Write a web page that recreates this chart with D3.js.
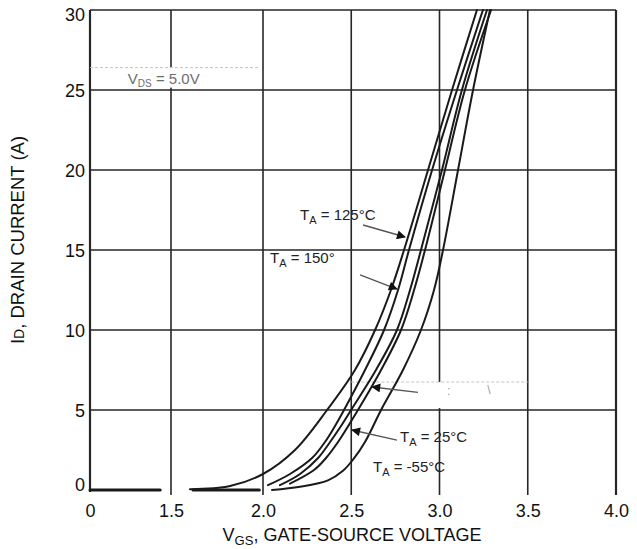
<!DOCTYPE html>
<html>
<head>
<meta charset="utf-8">
<script src="https://cdn.jsdelivr.net/npm/d3@7"></script>
<style>
  body { margin: 0; background: #fff; }
  svg { display: block; font-family: "Liberation Sans", Arial, sans-serif; }
</style>
</head>
<body>
<svg id="chart" width="637" height="549"></svg>
<script>
// gate-source voltage (V) ticks and drain current (A) ticks
const vgsTicks = [0, 1.5, 2.0, 2.5, 3.0, 3.5, 4.0];
const idTicks = [0, 5, 10, 15, 20, 25, 30];

// zero-current stretches drawn along the bottom
const zeroRun1 = [[0, 0], [1.3, 0]];
const zeroRun2 = [[1.62, 0], [1.98, 0]];

// [VGS, ID]
const t150 = [[1.603, 0.05], [1.821, 0.25], [2.0, 1.0], [2.181, 2.5], [2.363, 5.0], [2.521, 7.5],
  [2.635, 10.0], [2.725, 12.5], [2.799, 15.0], [2.935, 20.0], [3.071, 25.0], [3.212, 30.0]];
const t125 = [[2.028, 0.3], [2.153, 1.0], [2.278, 2.0], [2.351, 3.0], [2.408, 4.0], [2.459, 5.0],
  [2.578, 7.5], [2.686, 10.0], [2.765, 12.5], [2.827, 15.0], [2.958, 20.0], [3.099, 25.0], [3.246, 30.0]];
const tMid = [[2.096, 0.3], [2.21, 1.0], [2.312, 2.0], [2.38, 3.0], [2.442, 4.0], [2.499, 5.0],
  [2.64, 7.5], [2.759, 10.0], [2.833, 12.5], [2.895, 15.0], [3.014, 20.0], [3.127, 25.0], [3.269, 30.0]];
const t25 = [[2.153, 0.4], [2.289, 1.25], [2.357, 2.0], [2.425, 3.0], [2.538, 5.0], [2.669, 7.5],
  [2.782, 10.0], [2.856, 12.5], [2.918, 15.0], [3.031, 20.0], [3.144, 25.0], [3.292, 30.0]];
const tMinus55 = [[2.051, 0.0], [2.21, 0.2], [2.368, 0.6], [2.453, 1.2], [2.51, 1.9], [2.578, 3.0],
  [2.669, 5.0], [2.793, 7.5], [2.895, 10.0], [2.969, 12.5], [3.02, 15.0], [3.105, 20.0],
  [3.19, 25.0], [3.286, 30.0]];

const zeroRuns = [zeroRun1, zeroRun2];
const curves = [t150, t125, tMid, t25, tMinus55];

const svg = d3.select('#chart');

// the 0..1.5 span is squeezed on the original axis
const x = d3.scaleLinear().domain([0, 1.5, 2, 4]).range([90, 171, 263, 616]);
const y = d3.scaleLinear().domain([0, 30]).range([490, 10]);

const ink = '#262626';

// grid
const grid = svg.append('g').attr('stroke', ink).attr('stroke-width', 1.6);
grid.selectAll('line.h')
  .data(idTicks.filter(d => d > 0))
  .join('line')
  .attr('x1', x(0)).attr('x2', x(4))
  .attr('y1', d => y(d)).attr('y2', d => y(d));
grid.selectAll('line.v')
  .data(vgsTicks)
  .join('line')
  .attr('x1', d => x(d)).attr('x2', d => x(d))
  .attr('y1', y(30)).attr('y2', d => d === 0 ? y(0) + 2 : y(0) + 5)
  .attr('stroke-width', d => (d === 0 || d === 4) ? 2.2 : 1.6);

// washed-out label boxes from the scan
const boxes = svg.append('g');
boxes.append('rect')
  .attr('x', x(0) + 1.5).attr('y', y(26.4))
  .attr('width', x(1.98) - x(0) - 1.5).attr('height', y(25.15) - y(26.4))
  .attr('fill', '#fff');
boxes.append('line')
  .attr('x1', x(0)).attr('x2', x(1.98)).attr('y1', y(26.4)).attr('y2', y(26.4))
  .attr('stroke', '#c4c4c4').attr('stroke-dasharray', '3,2');
boxes.append('rect')
  .attr('x', x(2.5) + 1.5).attr('y', y(6.75))
  .attr('width', x(3.5) - x(2.5) - 3).attr('height', y(5.12) - y(6.75))
  .attr('fill', '#fff');
boxes.append('line')
  .attr('x1', x(2.5)).attr('x2', x(3.5)).attr('y1', y(6.75)).attr('y2', y(6.75))
  .attr('stroke', '#c4c4c4').attr('stroke-dasharray', '3,2');

// transfer curves
const flat = d3.line().x(d => x(d[0])).y(d => y(d[1]));
const smooth = d3.line()
  .x(d => x(d[0]))
  .y(d => y(d[1]))
  .curve(d3.curveCatmullRom.alpha(0.5));

const marks = svg.append('g')
  .attr('fill', 'none')
  .attr('stroke', '#1a1a1a')
  .attr('stroke-linecap', 'round');
marks.selectAll('path.zero')
  .data(zeroRuns)
  .join('path')
  .attr('class', 'zero')
  .attr('d', flat)
  .attr('stroke-width', 3);
marks.selectAll('path.curve')
  .data(curves)
  .join('path')
  .attr('class', 'curve')
  .attr('d', smooth)
  .attr('stroke-width', 2);

// axes text
const xAxis = d3.axisBottom(x)
  .tickValues(vgsTicks)
  .tickSize(0)
  .tickPadding(14)
  .tickFormat(d => d === 0 ? '0' : d3.format('.1f')(d));
const gx = svg.append('g').attr('transform', `translate(0,${y(0)})`).call(xAxis);
gx.select('.domain').remove();
gx.selectAll('text').attr('font-size', 18).attr('fill', '#111')
  .attr('font-family', '"Liberation Sans", Arial, sans-serif');

const yAxis = d3.axisLeft(y)
  .tickValues(idTicks)
  .tickSize(0)
  .tickPadding(5)
  .tickFormat(d3.format('d'));
const gy = svg.append('g').attr('transform', `translate(${x(0)},0)`).call(yAxis);
gy.select('.domain').remove();
gy.selectAll('text').attr('font-size', 18).attr('fill', '#111')
  .attr('font-family', '"Liberation Sans", Arial, sans-serif')
  .attr('dy', d => d === 30 ? '0.6em' : d === 0 ? '0.05em' : '0.34em');

// axis titles
const xt = svg.append('text')
  .attr('x', 352).attr('y', 541)
  .attr('text-anchor', 'middle')
  .attr('font-size', 18).attr('fill', '#111');
xt.append('tspan').text('V');
xt.append('tspan').attr('font-size', 13).attr('dy', 4).text('GS');
xt.append('tspan').attr('dy', -4).text(', GATE-SOURCE VOLTAGE');

const yt = svg.append('text')
  .attr('transform', 'translate(24,240) rotate(-90)')
  .attr('text-anchor', 'middle')
  .attr('font-size', 18.5).attr('fill', '#111');
yt.append('tspan').text('I');
yt.append('tspan').attr('font-size', 14).text('D');
yt.append('tspan').text(', DRAIN CURRENT (A)');

// annotations
svg.append('defs').append('marker')
  .attr('id', 'head')
  .attr('viewBox', '0 0 10 10')
  .attr('refX', 9).attr('refY', 5)
  .attr('markerWidth', 10).attr('markerHeight', 9)
  .attr('markerUnits', 'userSpaceOnUse')
  .attr('orient', 'auto')
  .append('path').attr('d', 'M0,0L10,5L0,10z').attr('fill', '#111');

const arrows = [
  { from: [2.567, 16.56], to: [2.805, 15.81] },
  { from: [2.55, 13.44], to: [2.759, 12.56] },
  { from: [2.759, 3.12], to: [2.504, 3.75] },
  { from: [2.878, 6.1], to: [2.618, 6.44] }
];
svg.append('g').selectAll('line')
  .data(arrows)
  .join('line')
  .attr('x1', d => x(d.from[0])).attr('y1', d => y(d.from[1]))
  .attr('x2', d => x(d.to[0])).attr('y2', d => y(d.to[1]))
  .attr('stroke', '#555').attr('stroke-width', 1.4)
  .attr('marker-end', 'url(#head)');

function tempLabel(px, py, value) {
  const t = svg.append('text')
    .attr('x', px).attr('y', py)
    .attr('font-size', 15).attr('fill', '#222');
  t.append('tspan').text('T');
  t.append('tspan').attr('font-size', 11).attr('dy', 4).text('A');
  t.append('tspan').attr('dy', -4).text(' = ' + value);
}
tempLabel(x(2.21), y(16.9), '125°C');
tempLabel(x(2.04), y(14.2), '150°');
tempLabel(x(2.776), y(3.0), ' 25°C');
tempLabel(x(2.623), y(1.125), '-55°C');

// faint leftovers of the scanned text
const vds = svg.append('text')
  .attr('x', x(0.70)).attr('y', y(25.4))
  .attr('font-size', 15).attr('fill', '#6e6e6e');
vds.append('tspan').text('V');
vds.append('tspan').attr('font-size', 10).attr('dy', 3).text('DS');
vds.append('tspan').attr('dy', -3).text('  =  5.0V');

svg.append('text')
  .attr('x', x(3.043)).attr('y', y(5.94))
  .attr('font-size', 12).attr('fill', '#9a9a9a')
  .text(':');
svg.append('text')
  .attr('x', x(3.27)).attr('y', y(6.0))
  .attr('font-size', 12).attr('fill', '#9a9a9a')
  .text('\\');
</script>
</body>
</html>
